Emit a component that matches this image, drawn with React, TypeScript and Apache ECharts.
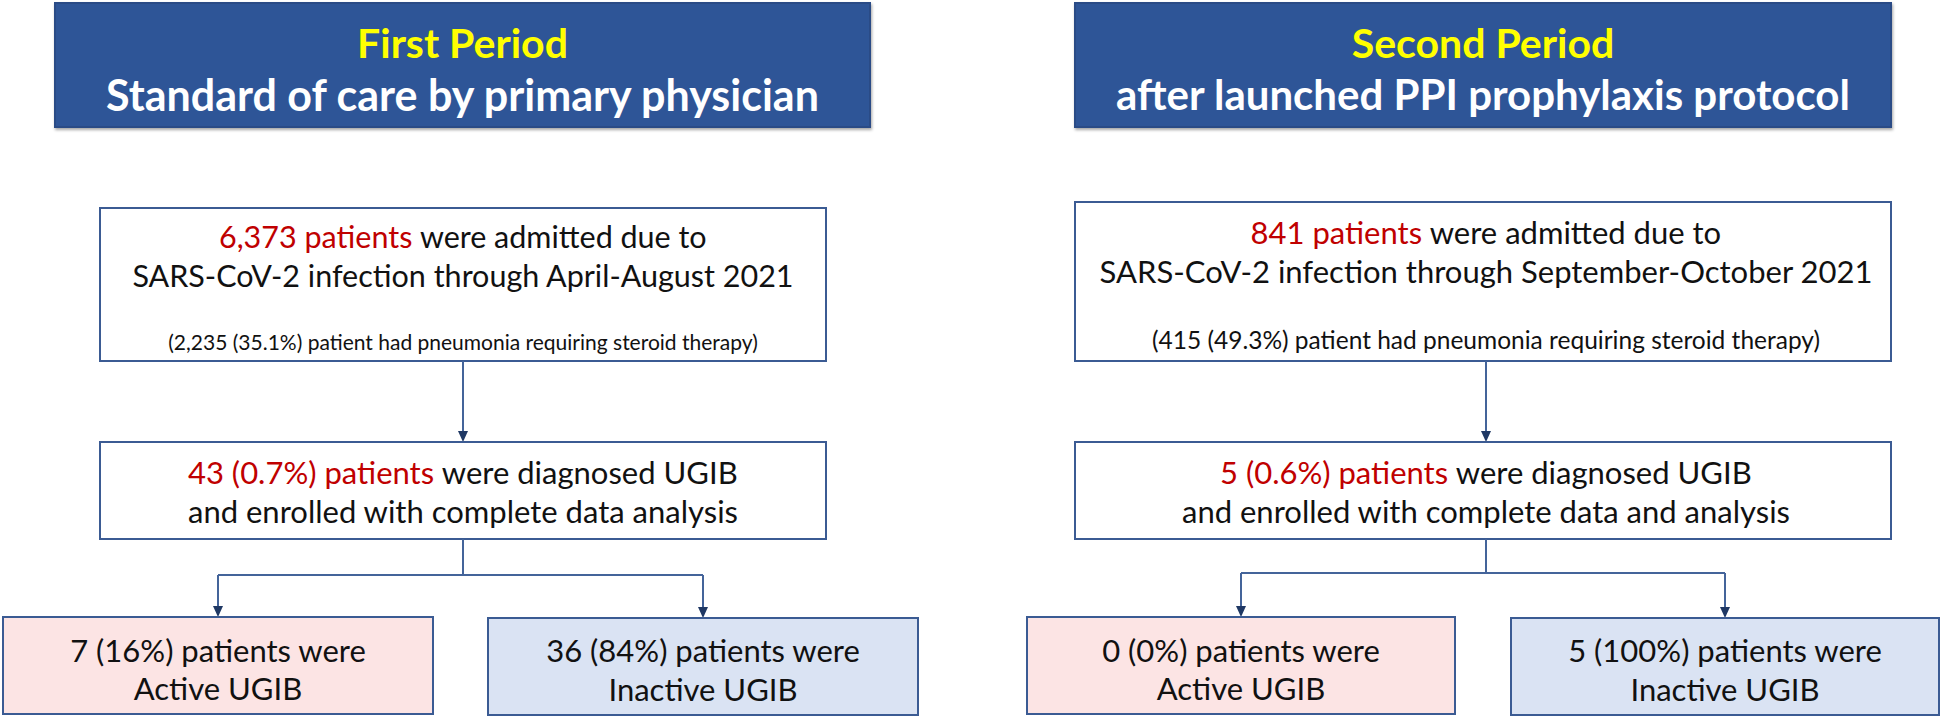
import React, { useEffect, useRef } from "react";
import * as echarts from "echarts";

// ---- data ----
const headerTitles = ["First Period", "Second Period"];
const headerSubtitles = ["Standard of care by primary physician", "after launched PPI prophylaxis protocol"];
const admittedCounts = ["6,373 patients", "841 patients"];
const admittedPeriods = ["April-August 2021", "September-October 2021"];
const steroidNotes = [
  "(2,235 (35.1%) patient had pneumonia requiring steroid therapy)",
  "(415 (49.3%) patient had pneumonia requiring steroid therapy)",
];
const ugibCounts = ["43 (0.7%) patients", "5 (0.6%) patients"];
const ugibSecondLines = ["and enrolled with complete data analysis", "and enrolled with complete data and analysis"];
const activeCounts = ["7 (16%)", "0 (0%)"];
const inactiveCounts = ["36 (84%)", "5 (100%)"];

// ---- layout ----
const W = 1943;
const H = 720;
const FONT = "Lato, 'Noto Sans', sans-serif";
const BORDER = "#3B5B93";
const LINE = "#44649A";
const ARROW = "#1F3864";
const RED = "#C00000";

type Panel = {
  hx: number; hw: number; bx: number; bw: number; b1y: number; stem: number;
  pinkX: number; pinkW: number; blueX: number; blueW: number;
  subSize: number; b1Size: number; noteSize: number; l1: number; l2: number; l3: number; branchY: number;
};
const panels: Panel[] = [
  {
    hx: 55, hw: 815, bx: 100, bw: 726, b1y: 208, stem: 463, pinkX: 3, pinkW: 430, blueX: 488, blueW: 430,
    subSize: 43, b1Size: 30.5, noteSize: 21, l1: 236, l2: 275, l3: 341, branchY: 575,
  },
  {
    hx: 1075, hw: 816, bx: 1075, bw: 816, b1y: 202, stem: 1486, pinkX: 1027, pinkW: 428, blueX: 1511, blueW: 428,
    subSize: 42, b1Size: 31, noteSize: 24.5, l1: 232, l2: 271, l3: 339, branchY: 573,
  },
];

function arrowHead(x: number, y: number) {
  return {
    type: "polygon",
    shape: { points: [[x - 5, y - 11], [x + 5, y - 11], [x, y]] },
    style: { fill: ARROW },
  };
}
function vline(x: number, y1: number, y2: number) {
  return { type: "line", shape: { x1: x, y1, x2: x, y2 }, style: { stroke: LINE, lineWidth: 2 } };
}
function hline(x1: number, x2: number, y: number) {
  return { type: "line", shape: { x1, y1: y, x2, y2: y }, style: { stroke: LINE, lineWidth: 2 } };
}
function text(x: number, y: number, t: string, size: number, opts: any = {}) {
  return {
    type: "text",
    style: {
      text: t, x, y, align: "center", verticalAlign: "middle",
      fontFamily: FONT, fontSize: size, fill: opts.fill || "#111111", fontWeight: opts.weight || "normal",
      rich: opts.rich,
    },
  };
}

function buildGraphics() {
  const els: any[] = [];
  panels.forEach((p, i) => {
    const hc = p.hx + p.hw / 2;
    const c = p.stem;
    // header
    els.push({
      type: "rect",
      shape: { x: p.hx, y: 3, width: p.hw, height: 124 },
      style: { fill: "#2F5597", stroke: "#2A4C86", lineWidth: 2, shadowBlur: 3, shadowColor: "rgba(0,0,0,0.35)", shadowOffsetX: 1, shadowOffsetY: 2 },
    });
    els.push(text(hc, 42, headerTitles[i], 41, { fill: "#FFFF00", weight: "bold" }));
    els.push(text(hc, 94, headerSubtitles[i], p.subSize, { fill: "#FFFFFF", weight: "bold" }));

    // box 1
    els.push({
      type: "rect",
      shape: { x: p.bx, y: p.b1y, width: p.bw, height: 361 - p.b1y },
      style: { fill: "#FFFFFF", stroke: BORDER, lineWidth: 2 },
    });
    const richB1 = { r: { fill: RED, fontSize: p.b1Size, fontFamily: FONT } };
    els.push(text(c, p.l1, `{r|${admittedCounts[i]}} were admitted due to`, p.b1Size, { rich: richB1 }));
    els.push(text(c, p.l2, `SARS-CoV-2 infection through ${admittedPeriods[i]}`, p.b1Size));
    els.push(text(c, p.l3, steroidNotes[i], p.noteSize));

    // connector box1 -> box2
    els.push(vline(c, 361, 432));
    els.push(arrowHead(c, 442));

    // box 2
    els.push({
      type: "rect",
      shape: { x: p.bx, y: 442, width: p.bw, height: 97 },
      style: { fill: "#FFFFFF", stroke: BORDER, lineWidth: 2 },
    });
    const rich2 = { r: { fill: RED, fontSize: 31, fontFamily: FONT } };
    els.push(text(c, 472, `{r|${ugibCounts[i]}} were diagnosed UGIB`, 31, { rich: rich2 }));
    els.push(text(c, 511, ugibSecondLines[i], 31));

    // branch
    const pc = p.pinkX + p.pinkW / 2;
    const bc = p.blueX + p.blueW / 2;
    els.push(vline(c, 539, p.branchY));
    els.push(hline(pc, bc, p.branchY));
    els.push(vline(pc, p.branchY, 607));
    els.push(vline(bc, p.branchY, 608));
    els.push(arrowHead(pc, 617));
    els.push(arrowHead(bc, 618));

    // bottom boxes
    els.push({
      type: "rect",
      shape: { x: p.pinkX, y: 617, width: p.pinkW, height: 97 },
      style: { fill: "#FCE4E4", stroke: BORDER, lineWidth: 2 },
    });
    els.push(text(pc, 650, `${activeCounts[i]} patients were`, 31));
    els.push(text(pc, 688, "Active UGIB", 31));
    els.push({
      type: "rect",
      shape: { x: p.blueX, y: 618, width: p.blueW, height: 97 },
      style: { fill: "#DAE3F3", stroke: BORDER, lineWidth: 2 },
    });
    els.push(text(bc, 650, `${inactiveCounts[i]} patients were`, 31));
    els.push(text(bc, 689, "Inactive UGIB", 31));
  });
  return els;
}

export default function App() {
  const ref = useRef<HTMLDivElement>(null);
  useEffect(() => {
    document.body.style.margin = "0";
    const chart = echarts.init(ref.current!, null, { renderer: "svg" });
    chart.setOption({
      animation: false,
      backgroundColor: "#FFFFFF",
      graphic: { elements: buildGraphics() },
    });
    return () => chart.dispose();
  }, []);
  return <div ref={ref} style={{ width: W, height: H }} />;
}
